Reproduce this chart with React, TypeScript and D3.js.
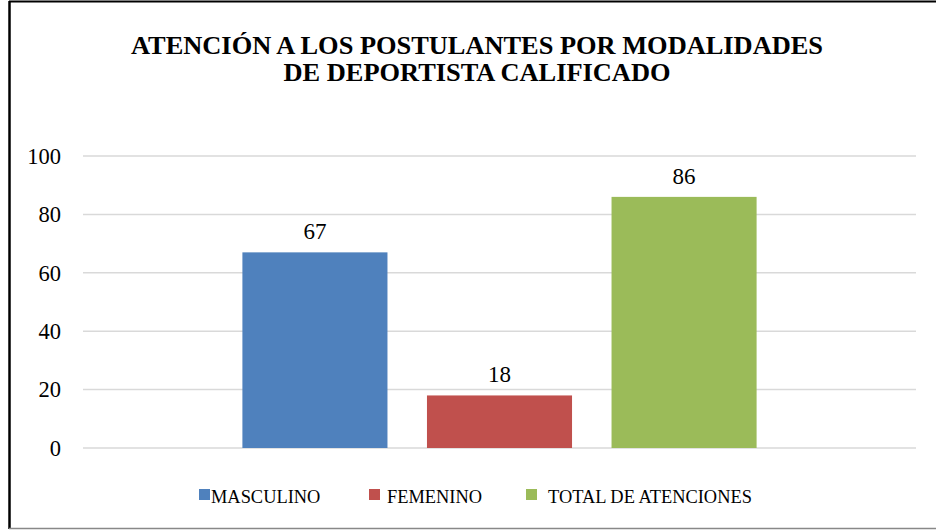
import React from "react";
import * as d3 from "d3";

const categories = [""];
const seriesNames = ["MASCULINO", "FEMENINO", "TOTAL DE ATENCIONES"];
const seriesValues = [67, 18, 86];
const seriesColors = ["#4F81BD", "#C0504D", "#9BBB59"];
const yTicks = [0, 20, 40, 60, 80, 100];
const titleLines = ["ATENCIÓN A LOS POSTULANTES POR MODALIDADES", "DE DEPORTISTA CALIFICADO"];

const W = 936;
const H = 530;
const FONT = '"Liberation Serif", "Times New Roman", serif';

export default function App() {
  const left = 83;
  const right = 916;
  const top = 156;
  const bottom = 448;

  const y = d3.scaleLinear().domain([0, 100]).range([bottom, top]);
  const x0 = d3.scaleBand<string>().domain(categories).range([left, right]).paddingInner(0).paddingOuter(0.31);
  const x1 = d3.scaleBand<string>().domain(seriesNames).range([0, x0.bandwidth()]).paddingInner(0.214).paddingOuter(0);

  const legendX = [199, 369, 526];
  const legendGap = [1, 7, 11];
  const titleWidths = [692, 387];
  const ts = { fontFamily: FONT };

  return (
    <svg width={W} height={H} style={{ position: "absolute", left: 0, top: 0, background: "#fff" }}>
      <rect x={0} y={0} width={W} height={H} fill="#fff" />
      {/* frame */}
      <line x1={9} x2={W} y1={1.5} y2={1.5} stroke="#000" strokeWidth={2} />
      <line x1={9.5} x2={9.5} y1={1} y2={529} stroke="#000" strokeWidth={2.5} />
      <line x1={9} x2={W} y1={528.5} y2={528.5} stroke="#888" strokeWidth={1.5} />

      {/* title */}
      {titleLines.map((t, i) => (
        <text
          key={i}
          x={477}
          y={54 + i * 27}
          textAnchor="middle"
          fontWeight="bold"
          fontSize={24.2}
          textLength={titleWidths[i]}
          lengthAdjust="spacingAndGlyphs"
          fill="#000"
          style={ts}
        >
          {t}
        </text>
      ))}

      {/* grid + y ticks */}
      {yTicks.map((t) => (
        <g key={t}>
          <line x1={left} x2={right} y1={y(t)} y2={y(t)} stroke="#d9d9d9" strokeWidth={1.5} />
          <text x={61} y={y(t)} dy="0.35em" textAnchor="end" fontSize={22.5} fill="#000" style={ts}>
            {t}
          </text>
        </g>
      ))}

      {/* bars */}
      {categories.map((c) => (
        <g key={c} transform={`translate(${x0(c)},0)`}>
          {seriesNames.map((s, i) => (
            <g key={s}>
              <rect x={x1(s)} y={y(seriesValues[i])} width={x1.bandwidth()} height={bottom - y(seriesValues[i])} fill={seriesColors[i]} />
              <text x={(x1(s) as number) + x1.bandwidth() / 2} y={y(seriesValues[i]) - 13} textAnchor="middle" fontSize={23} fill="#000" style={ts}>
                {seriesValues[i]}
              </text>
            </g>
          ))}
        </g>
      ))}

      {/* legend */}
      {seriesNames.map((s, i) => (
        <g key={s}>
          <rect x={legendX[i]} y={489} width={11} height={11} fill={seriesColors[i]} />
          <text x={legendX[i] + 11 + legendGap[i]} y={503} fontSize={18.4} fill="#000" style={ts}>
            {s}
          </text>
        </g>
      ))}
    </svg>
  );
}
